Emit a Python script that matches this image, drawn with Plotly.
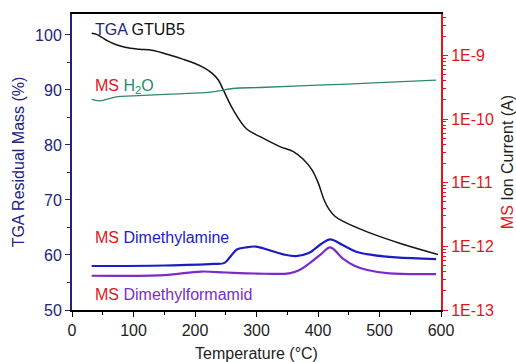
import plotly.graph_objects as go

# ---------------- data ----------------
tga_temp = [32, 40, 48, 58, 72, 88, 110, 130, 160, 180, 200, 215, 228, 238, 246, 262,
            284, 306, 338, 360, 376, 390, 400, 410, 418, 428, 441, 480, 534, 595]
tga_mass = [100.3, 100.1, 99.6, 98.9, 98.2, 97.7, 97.4, 97.2, 96.3, 95.6, 94.8, 94.0,
            93.0, 91.8, 90.0, 86.4, 82.9, 81.5, 79.7, 78.8, 77.4, 75.5, 73.2, 70.0,
            68.3, 67.0, 66.1, 64.2, 62.1, 60.1]

h2o_temp = [32, 45, 72, 99, 160, 229, 262, 306, 400, 500, 592]
h2o_curr = [2.03e-10, 1.93e-10, 2.23e-10, 2.31e-10, 2.46e-10, 2.67e-10, 3.02e-10,
            3.13e-10, 3.40e-10, 3.72e-10, 4.08e-10]

dma_temp = [32, 150, 230, 248, 258, 268, 282, 299, 320, 345, 364, 385, 405, 420, 440,
            462, 490, 527, 592]
dma_curr = [4.91e-13, 5.00e-13, 5.30e-13, 5.50e-13, 7.00e-13, 8.90e-13, 9.60e-13,
            9.93e-13, 8.75e-13, 7.43e-13, 7.04e-13, 7.85e-13, 1.087e-12, 1.29e-12,
            1.05e-12, 8.23e-13, 7.30e-13, 6.72e-13, 6.32e-13]

dmf_temp = [32, 150, 210, 250, 300, 353, 370, 386, 405, 420, 440, 460, 480, 516, 592]
dmf_curr = [3.45e-13, 3.54e-13, 4.02e-13, 3.88e-13, 3.74e-13, 3.76e-13, 4.25e-13,
            5.41e-13, 7.57e-13, 9.64e-13, 6.48e-13, 4.91e-13, 4.25e-13, 3.76e-13,
            3.67e-13]

x_ticks = [0, 100, 200, 300, 400, 500, 600]
y_ticks = [50, 60, 70, 80, 90, 100]
y2_tickvals = [1e-13, 1e-12, 1e-11, 1e-10, 1e-9]
y2_ticktext = ["1E-13", "1E-12", "1E-11", "1E-10", "1E-9"]

# ---------------- styles ----------------
NAVY = "#23237e"
RED = "#e3141b"
TEAL = "#2b8a68"
BLUE = "#1c1cc4"
PURPLE = "#7b2cc8"
FONT = "Liberation Sans, Arial, sans-serif"

fig = go.Figure()
fig.add_trace(go.Scatter(x=h2o_temp, y=h2o_curr, mode="lines", yaxis="y2",
                         line=dict(color=TEAL, width=1.3, shape="spline"), showlegend=False))
fig.add_trace(go.Scatter(x=dmf_temp, y=dmf_curr, mode="lines", yaxis="y2",
                         line=dict(color=PURPLE, width=2.2, shape="spline"), showlegend=False))
fig.add_trace(go.Scatter(x=dma_temp, y=dma_curr, mode="lines", yaxis="y2",
                         line=dict(color=BLUE, width=2.2, shape="spline"), showlegend=False))
fig.add_trace(go.Scatter(x=tga_temp, y=tga_mass, mode="lines", yaxis="y",
                         line=dict(color="#141414", width=1.5, shape="spline"), showlegend=False))

fig.update_layout(
    width=516, height=362,
    margin=dict(l=72, r=75, t=14, b=52),
    paper_bgcolor="white", plot_bgcolor="white",
    font=dict(family=FONT, size=16, color="black"),
    xaxis=dict(range=[0, 600], tickvals=x_ticks, showgrid=False, zeroline=False,
               automargin=False,
               showline=True, linecolor="black", linewidth=2, mirror=True,
               ticks="outside", ticklen=5, tickwidth=1.2, tickcolor="black",
               minor=dict(ticks="outside", ticklen=3, dtick=50, tickcolor="black"),
               tickfont=dict(size=16, color="#222"),
               title=dict(text="Temperature (°C)", font=dict(size=16, color="#222"), standoff=17)),
    yaxis=dict(range=[50, 103.8], tickvals=y_ticks, showgrid=False, zeroline=False,
               automargin=False,
               showline=True, linecolor=NAVY, linewidth=2,
               ticks="outside", ticklen=5, tickwidth=1.2, tickcolor=NAVY,
               minor=dict(ticks="outside", ticklen=3, dtick=5, tickcolor=NAVY),
               tickfont=dict(size=16, color=NAVY),
               title=dict(text="TGA Residual Mass (%)", font=dict(size=16, color=NAVY), standoff=6)),
    yaxis2=dict(type="log", range=[-13, -8.35], overlaying="y", side="right",
                automargin=False,
                tickvals=y2_tickvals, ticktext=y2_ticktext, showgrid=False, zeroline=False,
                showline=True, linecolor=RED, linewidth=2,
                ticks="outside", ticklen=5, tickwidth=1.2, tickcolor=RED,
                minor=dict(ticks="outside", ticklen=3, tickcolor=RED, dtick="D1"),
                tickfont=dict(size=16, color=RED),
                title=dict(text="<span style='color:%s'>MS</span> Ion Current (A)" % RED,
                           font=dict(size=16, color="#222"), standoff=18)),
)

annots = [
    (33.4, 100.9, "<span style='color:%s'>TGA</span> GTUB5" % NAVY),
    (33.4, 90.7, "<span style='color:%s'>MS</span> <span style='color:%s'>H<sub>2</sub>O</span>" % (RED, TEAL)),
    (33.4, 63.2, "<span style='color:%s'>MS</span> <span style='color:%s'>Dimethylamine</span>" % (RED, BLUE)),
    (33.4, 52.9, "<span style='color:%s'>MS</span> <span style='color:%s'>Dimethylformamid</span>" % (RED, PURPLE)),
]
for x, y, t in annots:
    fig.add_annotation(x=x, y=y, xref="x", yref="y", text=t, showarrow=False,
                       xanchor="left", yanchor="middle", font=dict(size=16, color="#111"))

fig.write_html("out.html")
